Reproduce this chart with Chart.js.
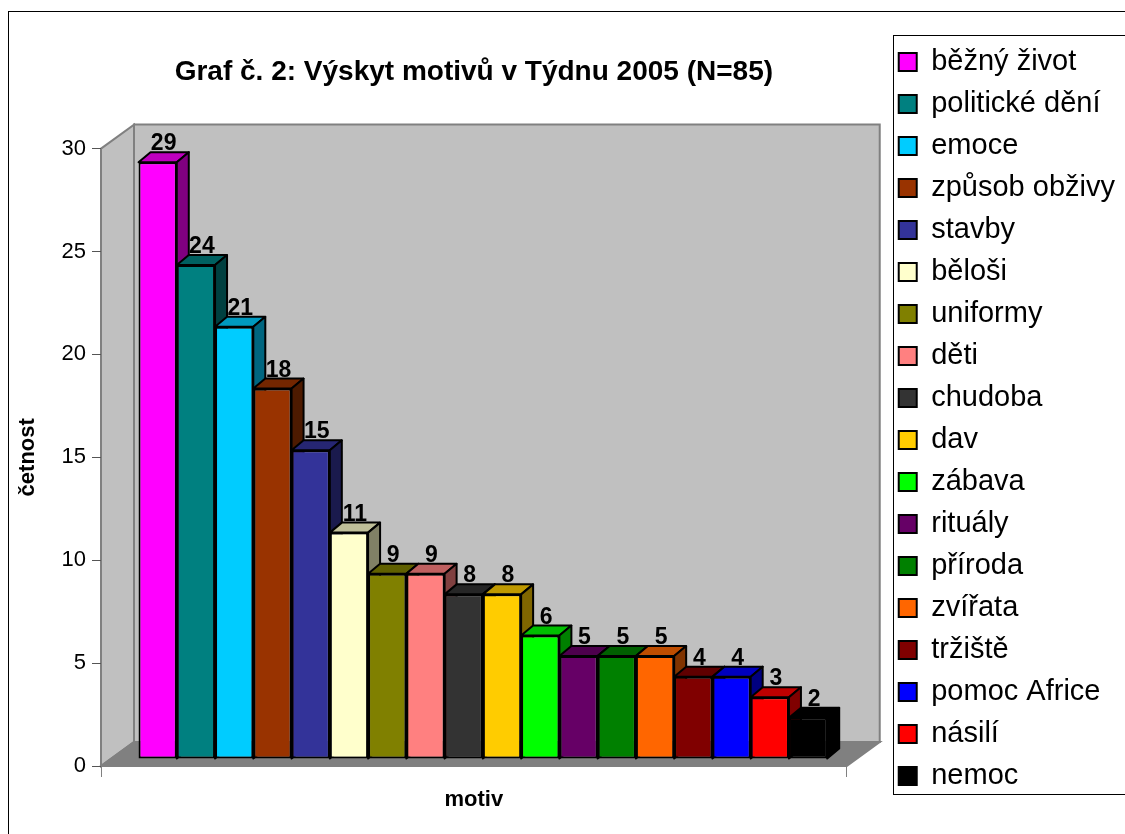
<!DOCTYPE html>
<html>
<head>
<meta charset="utf-8">
<script src="https://cdn.jsdelivr.net/npm/chart.js@4.4.0/dist/chart.umd.min.js"></script>
<style>
  body { margin: 0; background: #fff; }
  #wrap { width: 1125px; height: 834px; }
</style>
</head>
<body>
<div id="wrap"><canvas id="myChart" width="1125" height="834"></canvas></div>
<script>
const motifs = ["běžný život", "politické dění", "emoce", "způsob obživy", "stavby", "běloši",
  "uniformy", "děti", "chudoba", "dav", "zábava", "rituály", "příroda", "zvířata",
  "tržiště", "pomoc Africe", "násilí", "nemoc"];
const counts = [29, 24, 21, 18, 15, 11, 9, 9, 8, 8, 6, 5, 5, 5, 4, 4, 3, 2];
const barColors = ["#FF00FF", "#008080", "#00CCFF", "#993300", "#333399", "#FFFFCC",
  "#808000", "#FF8080", "#333333", "#FFCC00", "#00FF00", "#660066", "#008000", "#FF6600",
  "#800000", "#0000FF", "#FF0000", "#000000"];
const yMin = 0, yMax = 30, yStep = 5;
const titleText = "Graf č. 2: Výskyt motivů v Týdnu 2005 (N=85)";
const xTitle = "motiv";
const yTitle = "četnost";

const fontFamily = "'Liberation Sans', Arial, sans-serif";
// fake 3d: depth of the walls, shift of the bar row, depth of each bar
const wallDepth = { x: 33, y: -24 };
const barShift = { x: 9, y: -7 };
const barDepth = { x: 12, y: -10 };

function shade(hex, f) {
  const n = parseInt(hex.slice(1), 16);
  const r = Math.round(((n >> 16) & 255) * f);
  const g = Math.round(((n >> 8) & 255) * f);
  const b = Math.round((n & 255) * f);
  return `rgb(${r},${g},${b})`;
}

function poly(ctx, pts, fill) {
  ctx.beginPath();
  ctx.moveTo(pts[0][0], pts[0][1]);
  for (let i = 1; i < pts.length; i++) ctx.lineTo(pts[i][0], pts[i][1]);
  ctx.closePath();
  ctx.fillStyle = fill;
  ctx.fill();
  ctx.stroke();
}

const excel3d = {
  id: 'excel3d',
  beforeDraw(chart) {
    const ctx = chart.ctx;
    const a = chart.chartArea;
    const dx = wallDepth.x, dy = wallDepth.y;
    ctx.save();
    ctx.fillStyle = '#fff';
    ctx.fillRect(0, 0, chart.width, chart.height);

    // outer frame
    ctx.strokeStyle = '#000';
    ctx.lineWidth = 1;
    ctx.strokeRect(8.5, 11.5, chart.width + 20, chart.height + 20);

    // walls and floor
    ctx.strokeStyle = '#808080';
    ctx.lineWidth = 2;
    poly(ctx, [[a.left + dx, a.top + dy], [a.right + dx, a.top + dy], [a.right + dx, a.bottom + dy], [a.left + dx, a.bottom + dy]], '#c0c0c0');
    poly(ctx, [[a.left, a.top], [a.left + dx, a.top + dy], [a.left + dx, a.bottom + dy], [a.left, a.bottom]], '#c0c0c0');
    poly(ctx, [[a.left, a.bottom], [a.right, a.bottom], [a.right + dx, a.bottom + dy], [a.left + dx, a.bottom + dy]], '#808080');

    // legend frame
    const lg = chart.legend;
    const hb = lg.legendHitBoxes;
    if (hb && hb.length) {
      const first = hb[0], last = hb[hb.length - 1];
      ctx.strokeStyle = '#000';
      ctx.lineWidth = 1;
      const fx = Math.round(first.left - 6) + 0.5;
      const fy = Math.round(first.top - 13) + 0.5;
      const fb = Math.round(last.top + last.height + 3) + 0.5;
      ctx.strokeRect(fx, fy, chart.width + 20 - fx, fb - fy);
    }
    ctx.restore();
  },
  beforeDatasetsDraw(chart) {
    const ctx = chart.ctx;
    ctx.save();
    ctx.translate(barShift.x, barShift.y);
    ctx.save();
    ctx.lineWidth = 2;
    ctx.strokeStyle = '#000';
    ctx.lineJoin = 'round';
    chart.data.datasets.forEach((ds, i) => {
      const bar = chart.getDatasetMeta(i).data[0];
      const l = bar.x - bar.width / 2, r = bar.x + bar.width / 2;
      const top = bar.y, base = bar.base;
      const bx = barDepth.x, by = barDepth.y;
      poly(ctx, [[l, top], [r, top], [r + bx, top + by], [l + bx, top + by]], shade(ds.backgroundColor, 0.75));
      poly(ctx, [[r, top], [r + bx, top + by], [r + bx, base + by], [r, base]], shade(ds.backgroundColor, 0.5));
    });
    ctx.restore();
  },
  afterDatasetsDraw(chart) {
    const ctx = chart.ctx;
    ctx.fillStyle = '#000';
    ctx.font = 'bold 23px ' + fontFamily;
    ctx.textAlign = 'center';
    ctx.textBaseline = 'alphabetic';
    chart.data.datasets.forEach((ds, i) => {
      const bar = chart.getDatasetMeta(i).data[0];
      ctx.fillText(String(ds.data[0]), bar.x + 6, bar.y + barDepth.y - 2);
    });
    ctx.restore();
  }
};

const datasets = motifs.map((m, i) => ({
  label: m,
  data: [counts[i]],
  backgroundColor: barColors[i],
  borderColor: '#000',
  borderWidth: 2,
  borderSkipped: false,
  categoryPercentage: 0.9235,
  barPercentage: 1
}));

const ctx = document.getElementById('myChart').getContext('2d');
const chart = new Chart(ctx, {
  type: 'bar',
  data: { labels: [''], datasets: datasets },
  plugins: [excel3d],
  options: {
    responsive: false,
    animation: false,
    layout: { padding: { top: 12, left: 11, right: 0, bottom: 8 } },
    plugins: {
      tooltip: { enabled: false },
      title: {
        display: true,
        text: titleText,
        fullSize: false,
        color: '#000',
        font: { family: fontFamily, size: 28, weight: 'bold' },
        padding: { top: 43, bottom: 60 }
      },
      legend: {
        position: 'right',
        labels: {
          color: '#000',
          font: { family: fontFamily, size: 29 },
          boxWidth: 18,
          boxHeight: 18,
          padding: 13
        }
      }
    },
    scales: {
      x: {
        grid: { drawOnChartArea: false, drawTicks: true, tickLength: 11, color: '#808080', offset: true },
        border: { color: '#808080', width: 1 },
        ticks: { display: false },
        title: {
          display: true, text: xTitle, color: '#000',
          font: { family: fontFamily, size: 22, weight: 'bold' },
          padding: { top: 4, bottom: 13 }
        },
        afterFit: (s) => { s.height = 60; }
      },
      y: {
        min: yMin, max: yMax,
        grid: { drawOnChartArea: false, drawTicks: true, tickLength: 9, color: '#555' },
        border: { color: '#808080', width: 1 },
        ticks: { stepSize: yStep, color: '#000', padding: 6, font: { family: fontFamily, size: 22 } },
        title: {
          display: true, text: yTitle, color: '#000',
          font: { family: fontFamily, size: 22, weight: 'bold' },
          padding: { top: 4, bottom: 4 }
        },
        afterFit: (s) => { s.width = 90; }
      },
      gap: {
        position: 'right',
        display: false,
        afterFit: (s) => { s.width = 39; }
      }
    }
  }
});
</script>
</body>
</html>
